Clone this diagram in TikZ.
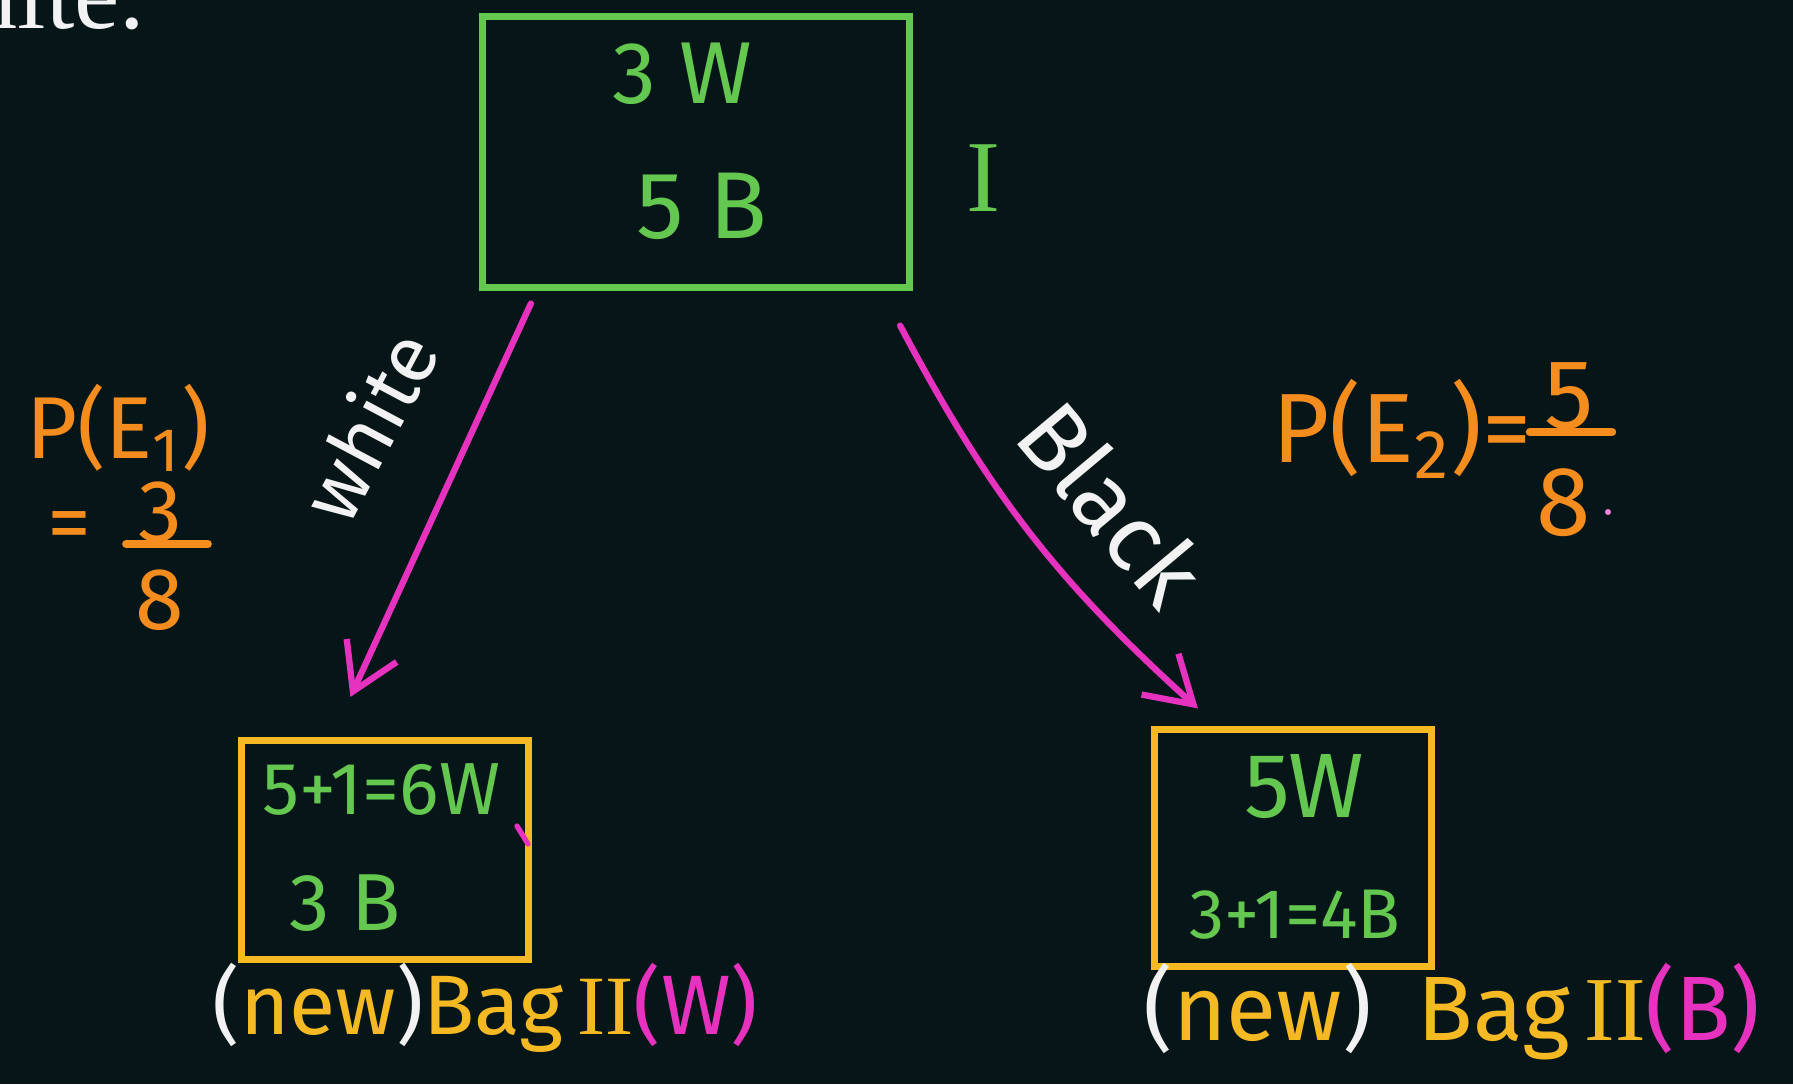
\documentclass[tikz,border=0pt]{standalone}
\usepackage{fontspec}
\setmainfont{Fira Sans}
\newfontfamily\romanfont{Liberation Serif}
\usetikzlibrary{arrows.meta}
\definecolor{bgc}{HTML}{061517}
\definecolor{chalkgreen}{HTML}{64C850}
\definecolor{chalkyellow}{HTML}{F5B923}
\definecolor{chalkorange}{HTML}{F58C1E}
\definecolor{chalkpink}{HTML}{E632BE}
\definecolor{chalkwhite}{HTML}{F2F2F2}
\begin{document}
\begin{tikzpicture}[x=0.01cm,y=-0.01cm,
  fs/.style={font=\fontsize{#1pt}{#1pt}\selectfont},
  txt/.style={inner sep=0pt},
  gtext/.style={txt,text=chalkgreen},
  otext/.style={txt,text=chalkorange},
  wtext/.style={txt,text=chalkwhite},
  greenbox/.style={draw=chalkgreen,line width=2pt,inner sep=0pt},
  yellowbox/.style={draw=chalkyellow,line width=2pt,inner sep=0pt},
  parrow/.style={draw=chalkpink,line width=1.8pt,line cap=round,
    -{Straight Barb[length=0.45cm,width=0.55cm,line width=1.8pt]}}]
\useasboundingbox (0,0) rectangle (1793,1084);
\clip (0,0) rectangle (1793,1084);
\fill[bgc] (0,0) rectangle (1793,1084);

% cut-off text at top left
\node[wtext,anchor=base east,font=\romanfont\fontsize{29pt}{29pt}\selectfont] (ite) at (146,28) {hite.};

% boxes
\node[greenbox,minimum width=4.27cm,minimum height=2.70cm] (top) at (696,152) {};
\node[yellowbox,minimum width=2.86cm,minimum height=2.19cm] (left) at (385,850) {};
\node[yellowbox,minimum width=2.77cm,minimum height=2.36cm] (right) at (1293,848) {};

% box contents
\node[gtext,fs=25] (t3w) at (682,74) {3 W};
\node[gtext,fs=27] (t5b) at (702,206) {5 B};
\node[txt,text=chalkgreen,font=\romanfont\fontsize{29pt}{29pt}\selectfont] (bagI) at (983,178) {I};

\node[gtext,fs=21] (l6w) at (381,789) {5+1=6W};
\node[gtext,fs=23] (l3b) at (345,903) {3 B};

\node[gtext,fs=26] (r5w) at (1304,787) {5W};
\node[gtext,fs=20] (r4b) at (1295,915) {3+1=4B};

% arrows
\draw[parrow] ([shift={(52,13)}]top.south west) -- ([shift={(112,-40)}]left.north west);
\draw[parrow] ([shift={(-13,35)}]top.south east) to[bend right=10] ([shift={(47,-18)}]right.north west);

% arrow labels
\node[wtext,fs=23,rotate=62] (lwhite) at (368,425) {white};
\node[wtext,fs=27,rotate=-50] (lblack) at (1112,503) {Black};

% probabilities left
\node[otext,fs=25] (pe1) at (118,428) {P(E\textsubscript{1})};
\node[otext,fs=25] (eq1) at (69,532) {=};
\node[otext,fs=25] (n1) at (160,512) {3};
\node[otext,fs=25] (d1) at (160,600) {8};
\draw[chalkorange,line width=2.2pt,line cap=round] (126,544) -- (208,544);

% probabilities right
\node[otext,fs=28,anchor=east] (pe2) at (1532,429) {P(E\textsubscript{2})=};
\node[otext,fs=28] (n2) at (1569,396) {5};
\node[otext,fs=28] (d2) at (1564,503) {8};
\draw[chalkorange,line width=2.4pt,line cap=round] (1530,432) -- (1612,432);
\fill[chalkpink!60!white] (1608,512) circle (3);

% stray mark
\draw[chalkpink,line width=1.5pt,line cap=round] (517,826) -- (528,844);

% bag labels
\node[txt,fs=24,anchor=west,text=chalkyellow] (labW) at (212,1008)
  {{\color{chalkwhite}(}new{\color{chalkwhite})}Bag\,{\romanfont II}{\color{chalkpink}(W)}};
\node[txt,fs=26,anchor=west,text=chalkyellow] (labB) at (1143,1012)
  {{\color{chalkwhite}(}new{\color{chalkwhite})}\hspace{0.5em}Bag\,{\romanfont II}{\color{chalkpink}(B)}};
\end{tikzpicture}
\end{document}
